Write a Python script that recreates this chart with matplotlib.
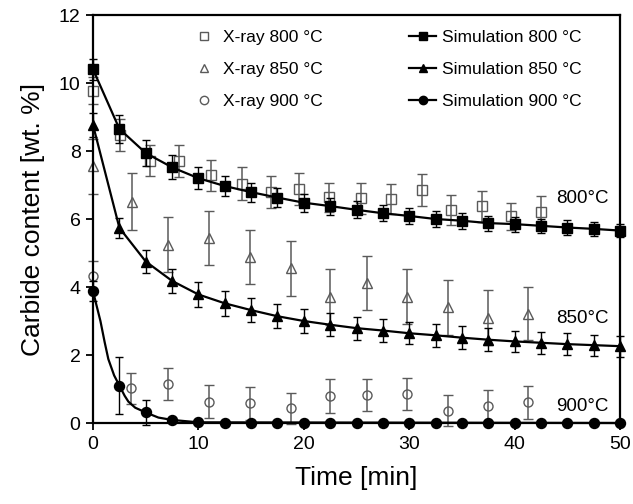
import matplotlib
matplotlib.use('Agg')
import matplotlib.pyplot as plt
from matplotlib.lines import Line2D

plt.rcParams['font.family'] = ['Liberation Sans', 'DejaVu Sans']

# ---- data ----
sim_t = [0, 2.5, 5, 7.5, 10, 12.5, 15, 17.5, 20, 22.5, 25, 27.5, 30, 32.5, 35,
         37.5, 40, 42.5, 45, 47.5, 50]
sim800 = [10.4, 8.65, 7.94, 7.52, 7.2, 6.97, 6.79, 6.63, 6.48, 6.38, 6.27, 6.17,
          6.09, 6.0, 5.95, 5.88, 5.85, 5.8, 5.75, 5.71, 5.66]
sim800_err = [0.3, 0.42, 0.38, 0.35, 0.33, 0.3, 0.28, 0.27, 0.26, 0.25, 0.25, 0.24,
              0.24, 0.23, 0.23, 0.22, 0.22, 0.21, 0.21, 0.2, 0.2]
sim850 = [8.76, 5.74, 4.75, 4.18, 3.78, 3.52, 3.32, 3.14, 3.0, 2.89, 2.79, 2.72,
          2.64, 2.58, 2.51, 2.45, 2.4, 2.36, 2.32, 2.29, 2.26]
sim850_err = [0.35, 0.3, 0.35, 0.36, 0.37, 0.36, 0.35, 0.35, 0.34, 0.34, 0.34, 0.34,
              0.33, 0.33, 0.33, 0.33, 0.32, 0.32, 0.32, 0.31, 0.31]
sim900 = [3.88, 1.1, 0.31, 0.09, 0.02, 0.0, 0.0, 0.0, 0.0, 0.0, 0.0, 0.0,
          0.0, 0.0, 0.0, 0.0, 0.0, 0.0, 0.0, 0.0, 0.0]
sim900_err = [0.3, 0.83, 0.37, 0.05, 0.0, 0.0, 0.0, 0.0, 0.0, 0.0, 0.0, 0.0,
              0.0, 0.0, 0.0, 0.0, 0.0, 0.0, 0.0, 0.0, 0.0]
# smooth simulation curve at 900 °C
sim900_line_t = [0, 0.28, 0.7, 1.1, 1.45, 2.0, 2.5, 3.0, 3.35, 4.0, 5, 6.2, 7.5, 10, 50]
sim900_line = [3.88, 3.52, 3.0, 2.38, 1.88, 1.4, 1.1, 0.8, 0.63, 0.45, 0.31, 0.16,
               0.09, 0.02, 0.0]

x800_t = [0, 2.6, 5.4, 8.2, 11.2, 14.1, 16.9, 19.5, 22.4, 25.4, 28.3, 31.2, 34.0,
          36.9, 39.7, 42.5]
x800 = [9.77, 8.47, 7.72, 7.72, 7.28, 7.04, 6.79, 6.87, 6.64, 6.61, 6.59, 6.85,
        6.26, 6.37, 6.08, 6.22]
x800_err = [0.4, 0.48, 0.46, 0.47, 0.46, 0.48, 0.48, 0.47, 0.43, 0.46, 0.44, 0.47,
            0.45, 0.45, 0.4, 0.46]
x850_t = [0, 3.7, 7.15, 11.0, 14.9, 18.75, 22.5, 26.0, 29.8, 33.7, 37.5, 41.3]
x850 = [7.55, 6.51, 5.25, 5.44, 4.88, 4.55, 3.7, 4.12, 3.72, 3.4, 3.1, 3.21]
x850_err = [0.8, 0.83, 0.8, 0.8, 0.8, 0.81, 0.82, 0.79, 0.8, 0.81, 0.81, 0.78]
x900_t = [0, 3.6, 7.15, 11.0, 14.9, 18.75, 22.5, 26.0, 29.8, 33.7, 37.5, 41.3]
x900 = [4.32, 1.02, 1.15, 0.63, 0.58, 0.43, 0.79, 0.82, 0.84, 0.36, 0.51, 0.61]
x900_err = [0.45, 0.45, 0.48, 0.48, 0.48, 0.45, 0.49, 0.47, 0.47, 0.46, 0.47, 0.48]

labels_x = ['X-ray 800 °C', 'X-ray 850 °C', 'X-ray 900 °C']
labels_sim = ['Simulation 800 °C', 'Simulation 850 °C', 'Simulation 900 °C']
annot_text = ['800°C', '850°C', '900°C']
annot_y = [6.59, 3.08, 0.48]

# ---- figure ----
fig = plt.figure(figsize=(6.33, 5.04), dpi=100)
ax = fig.add_axes([0.147, 0.1607, 0.8325, 0.8095])

gray = '#5a5a5a'


def noclip(container):
    for art in container.get_children():
        art.set_clip_on(False)


for t, y, e, m, ms in [(x800_t, x800, x800_err, 's', 6.5),
                       (x850_t, x850, x850_err, '^', 6.5),
                       (x900_t, x900, x900_err, 'o', 6.5)]:
    c = ax.errorbar(t, y, yerr=e, fmt=m, ms=ms, mfc='none', mec=gray, mew=1.0,
                    ecolor=gray, elinewidth=1.1, capsize=3.5, capthick=1.1, zorder=2)
    noclip(c)

for y, e, m, ms in [(sim800, sim800_err, 's', 7.2),
                    (sim850, sim850_err, '^', 7.2),
                    ]:
    c = ax.errorbar(sim_t, y, yerr=e, fmt=m + '-', ms=ms, color='black', lw=1.6,
                    elinewidth=1.0, capsize=3, capthick=1.0, zorder=3)
    noclip(c)

ln, = ax.plot(sim900_line_t, sim900_line, '-', color='black', lw=1.6, zorder=3, clip_on=False)
c = ax.errorbar(sim_t, sim900, yerr=sim900_err, fmt='o', ms=7.2, color='black',
                elinewidth=1.0, capsize=3, capthick=1.0, zorder=3)
noclip(c)

for txt, yy in zip(annot_text, annot_y):
    ax.text(43.9, yy, txt, ha='left', va='center', fontsize=13.5)

ax.set_xlim(0, 50)
ax.set_ylim(0, 12)
ax.set_xticks([0, 10, 20, 30, 40, 50])
ax.set_yticks([0, 2, 4, 6, 8, 10, 12])
ax.tick_params(direction='out', length=5, width=1.3, labelsize=14, pad=4)
for s in ax.spines.values():
    s.set_linewidth(1.6)
ax.set_xlabel('Time [min]', fontsize=19, labelpad=10)
ax.set_ylabel('Carbide content [wt. %]', fontsize=19, labelpad=10)

handles = [
    Line2D([], [], ls='none', marker='s', ms=6, mfc='none', mec=gray),
    Line2D([], [], ls='none', marker='^', ms=6, mfc='none', mec=gray),
    Line2D([], [], ls='none', marker='o', ms=6, mfc='none', mec=gray),
    Line2D([], [], ls='-', lw=1.6, marker='s', ms=6, color='black'),
    Line2D([], [], ls='-', lw=1.6, marker='^', ms=6, color='black'),
    Line2D([], [], ls='-', lw=1.6, marker='o', ms=6, color='black'),
]
leg = fig.legend(handles, labels_x + labels_sim, ncol=2, frameon=False,
                 loc='upper left', bbox_to_anchor=(190 / 633, 1 - 30 / 504),
                 fontsize=12.5, handlelength=1.6, handletextpad=0.3,
                 columnspacing=4.95, labelspacing=0.98, borderpad=0, borderaxespad=0)

fig.savefig('out.png', dpi=100)
